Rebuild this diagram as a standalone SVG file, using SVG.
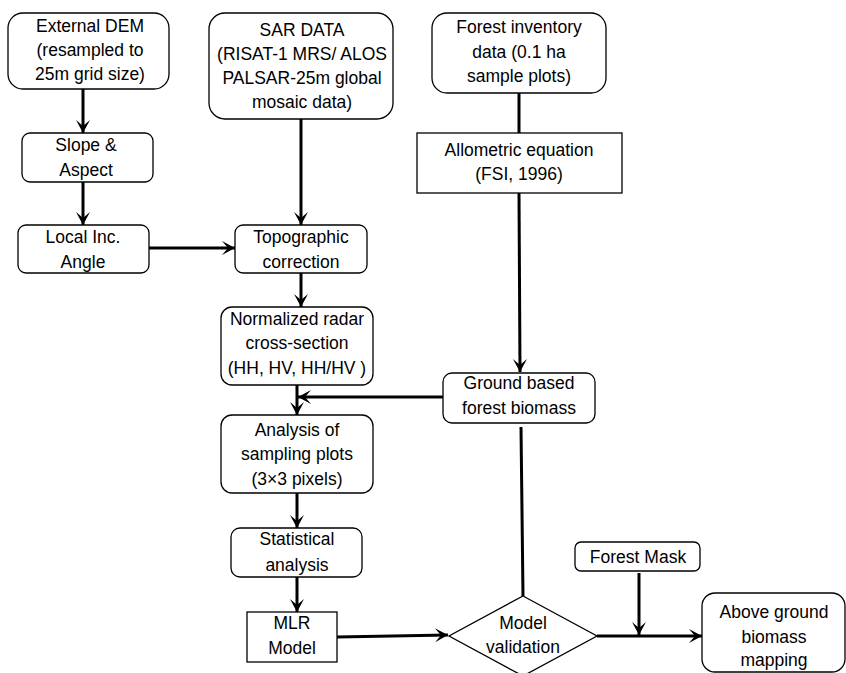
<svg xmlns="http://www.w3.org/2000/svg" width="846" height="673" viewBox="0 0 846 673">
<style>
.box{fill:#fff;stroke:#000;stroke-width:1.3}
.t{font-family:"Liberation Sans",Arial,sans-serif;font-size:17.5px;fill:#000;text-anchor:middle}
.c{fill:none;stroke:#000;stroke-width:3}
</style>
<defs>
<marker id="ah" viewBox="-14 -8 15 16" refX="0" refY="0" markerWidth="15" markerHeight="16" markerUnits="userSpaceOnUse" orient="auto">
<path d="M0,0 L-13,-7 L-7,0 L-13,7 Z" fill="#000"/>
</marker>
</defs>
<rect width="846" height="673" fill="#fff"/>
<g id="connectors">
<line class="c" x1="83" y1="89" x2="83" y2="133" marker-end="url(#ah)"/>
<line class="c" x1="83" y1="182" x2="83" y2="225" marker-end="url(#ah)"/>
<line class="c" x1="149" y1="248" x2="235" y2="248" marker-end="url(#ah)"/>
<line class="c" x1="301" y1="119" x2="301" y2="225" marker-end="url(#ah)"/>
<line class="c" x1="301" y1="273" x2="301" y2="307" marker-end="url(#ah)"/>
<line class="c" x1="519" y1="93" x2="519" y2="133"/>
<line class="c" x1="519" y1="193" x2="520" y2="372" marker-end="url(#ah)"/>
<line class="c" x1="443" y1="397" x2="298" y2="397" marker-end="url(#ah)"/>
<line class="c" x1="297" y1="385" x2="297" y2="415" marker-end="url(#ah)"/>
<line class="c" x1="297" y1="493" x2="297" y2="528" marker-end="url(#ah)"/>
<line class="c" x1="297" y1="577" x2="297" y2="612" marker-end="url(#ah)"/>
<line class="c" x1="337" y1="637" x2="448" y2="635" marker-end="url(#ah)"/>
<line class="c" x1="521" y1="427" x2="523" y2="596"/>
<line class="c" x1="639" y1="573" x2="639" y2="635" marker-end="url(#ah)"/>
<line class="c" x1="597" y1="636" x2="702" y2="636" marker-end="url(#ah)"/>
</g>
<g id="n-dem">
<rect class="box" x="8" y="13" width="161" height="76" rx="15"/>
<text class="t" x="90" y="32">External DEM</text>
<text class="t" x="90" y="56">(resampled to</text>
<text class="t" x="90" y="80">25m grid size)</text>
</g>
<g id="n-sar">
<rect class="box" x="209" y="13" width="184" height="106" rx="16"/>
<text class="t" x="302" y="36">SAR DATA</text>
<text class="t" x="302" y="60">(RISAT-1 MRS/ ALOS</text>
<text class="t" x="302" y="84">PALSAR-25m global</text>
<text class="t" x="302" y="108">mosaic data)</text>
</g>
<g id="n-forestinv">
<rect class="box" x="432" y="13" width="174" height="80" rx="15"/>
<text class="t" x="519" y="33">Forest inventory</text>
<text class="t" x="519" y="58">data (0.1 ha</text>
<text class="t" x="519" y="82">sample plots)</text>
</g>
<g id="n-slope">
<rect class="box" x="22" y="133" width="131" height="49" rx="8"/>
<text class="t" x="86" y="151">Slope &amp;</text>
<text class="t" x="86" y="176">Aspect</text>
</g>
<g id="n-allometric">
<rect class="box" x="417" y="133" width="205" height="60"/>
<text class="t" x="519" y="156">Allometric equation</text>
<text class="t" x="519" y="180">(FSI, 1996)</text>
</g>
<g id="n-localinc">
<rect class="box" x="18" y="225" width="131" height="48" rx="8"/>
<text class="t" x="83" y="243">Local Inc.</text>
<text class="t" x="83" y="268">Angle</text>
</g>
<g id="n-topo">
<rect class="box" x="235" y="225" width="132" height="48" rx="8"/>
<text class="t" x="301" y="243">Topographic</text>
<text class="t" x="301" y="268">correction</text>
</g>
<g id="n-nrcs">
<rect class="box" x="221" y="307" width="152" height="78" rx="11"/>
<text class="t" x="297" y="325">Normalized radar</text>
<text class="t" x="297" y="349">cross-section</text>
<text class="t" x="297" y="374">(HH, HV, HH/HV )</text>
</g>
<g id="n-ground">
<rect class="box" x="443" y="373" width="152" height="50" rx="9"/>
<text class="t" x="519" y="389">Ground based</text>
<text class="t" x="519" y="414">forest biomass</text>
</g>
<g id="n-analysis">
<rect class="box" x="221" y="415" width="152" height="78" rx="11"/>
<text class="t" x="297" y="436">Analysis of</text>
<text class="t" x="297" y="460">sampling plots</text>
<text class="t" x="297" y="485">(3×3 pixels)</text>
</g>
<g id="n-stat">
<rect class="box" x="231" y="528" width="131" height="49" rx="9"/>
<text class="t" x="297" y="545">Statistical</text>
<text class="t" x="297" y="571">analysis</text>
</g>
<g id="n-forestmask">
<rect class="box" x="575" y="542" width="125" height="29" rx="6"/>
<text class="t" x="638" y="563">Forest Mask</text>
</g>
<g id="n-mlr">
<rect class="box" x="247" y="612" width="90" height="50"/>
<text class="t" x="292" y="629">MLR</text>
<text class="t" x="292" y="654">Model</text>
</g>
<g id="n-validation">
<polygon class="box" points="523,596 597,636 523,676 449,636"/>
<text class="t" x="523" y="629">Model</text>
<text class="t" x="523" y="653">validation</text>
</g>
<g id="n-agb">
<rect class="box" x="702" y="593" width="143" height="79" rx="13"/>
<text class="t" x="774" y="618">Above ground</text>
<text class="t" x="774" y="643">biomass</text>
<text class="t" x="774" y="666">mapping</text>
</g>
</svg>
